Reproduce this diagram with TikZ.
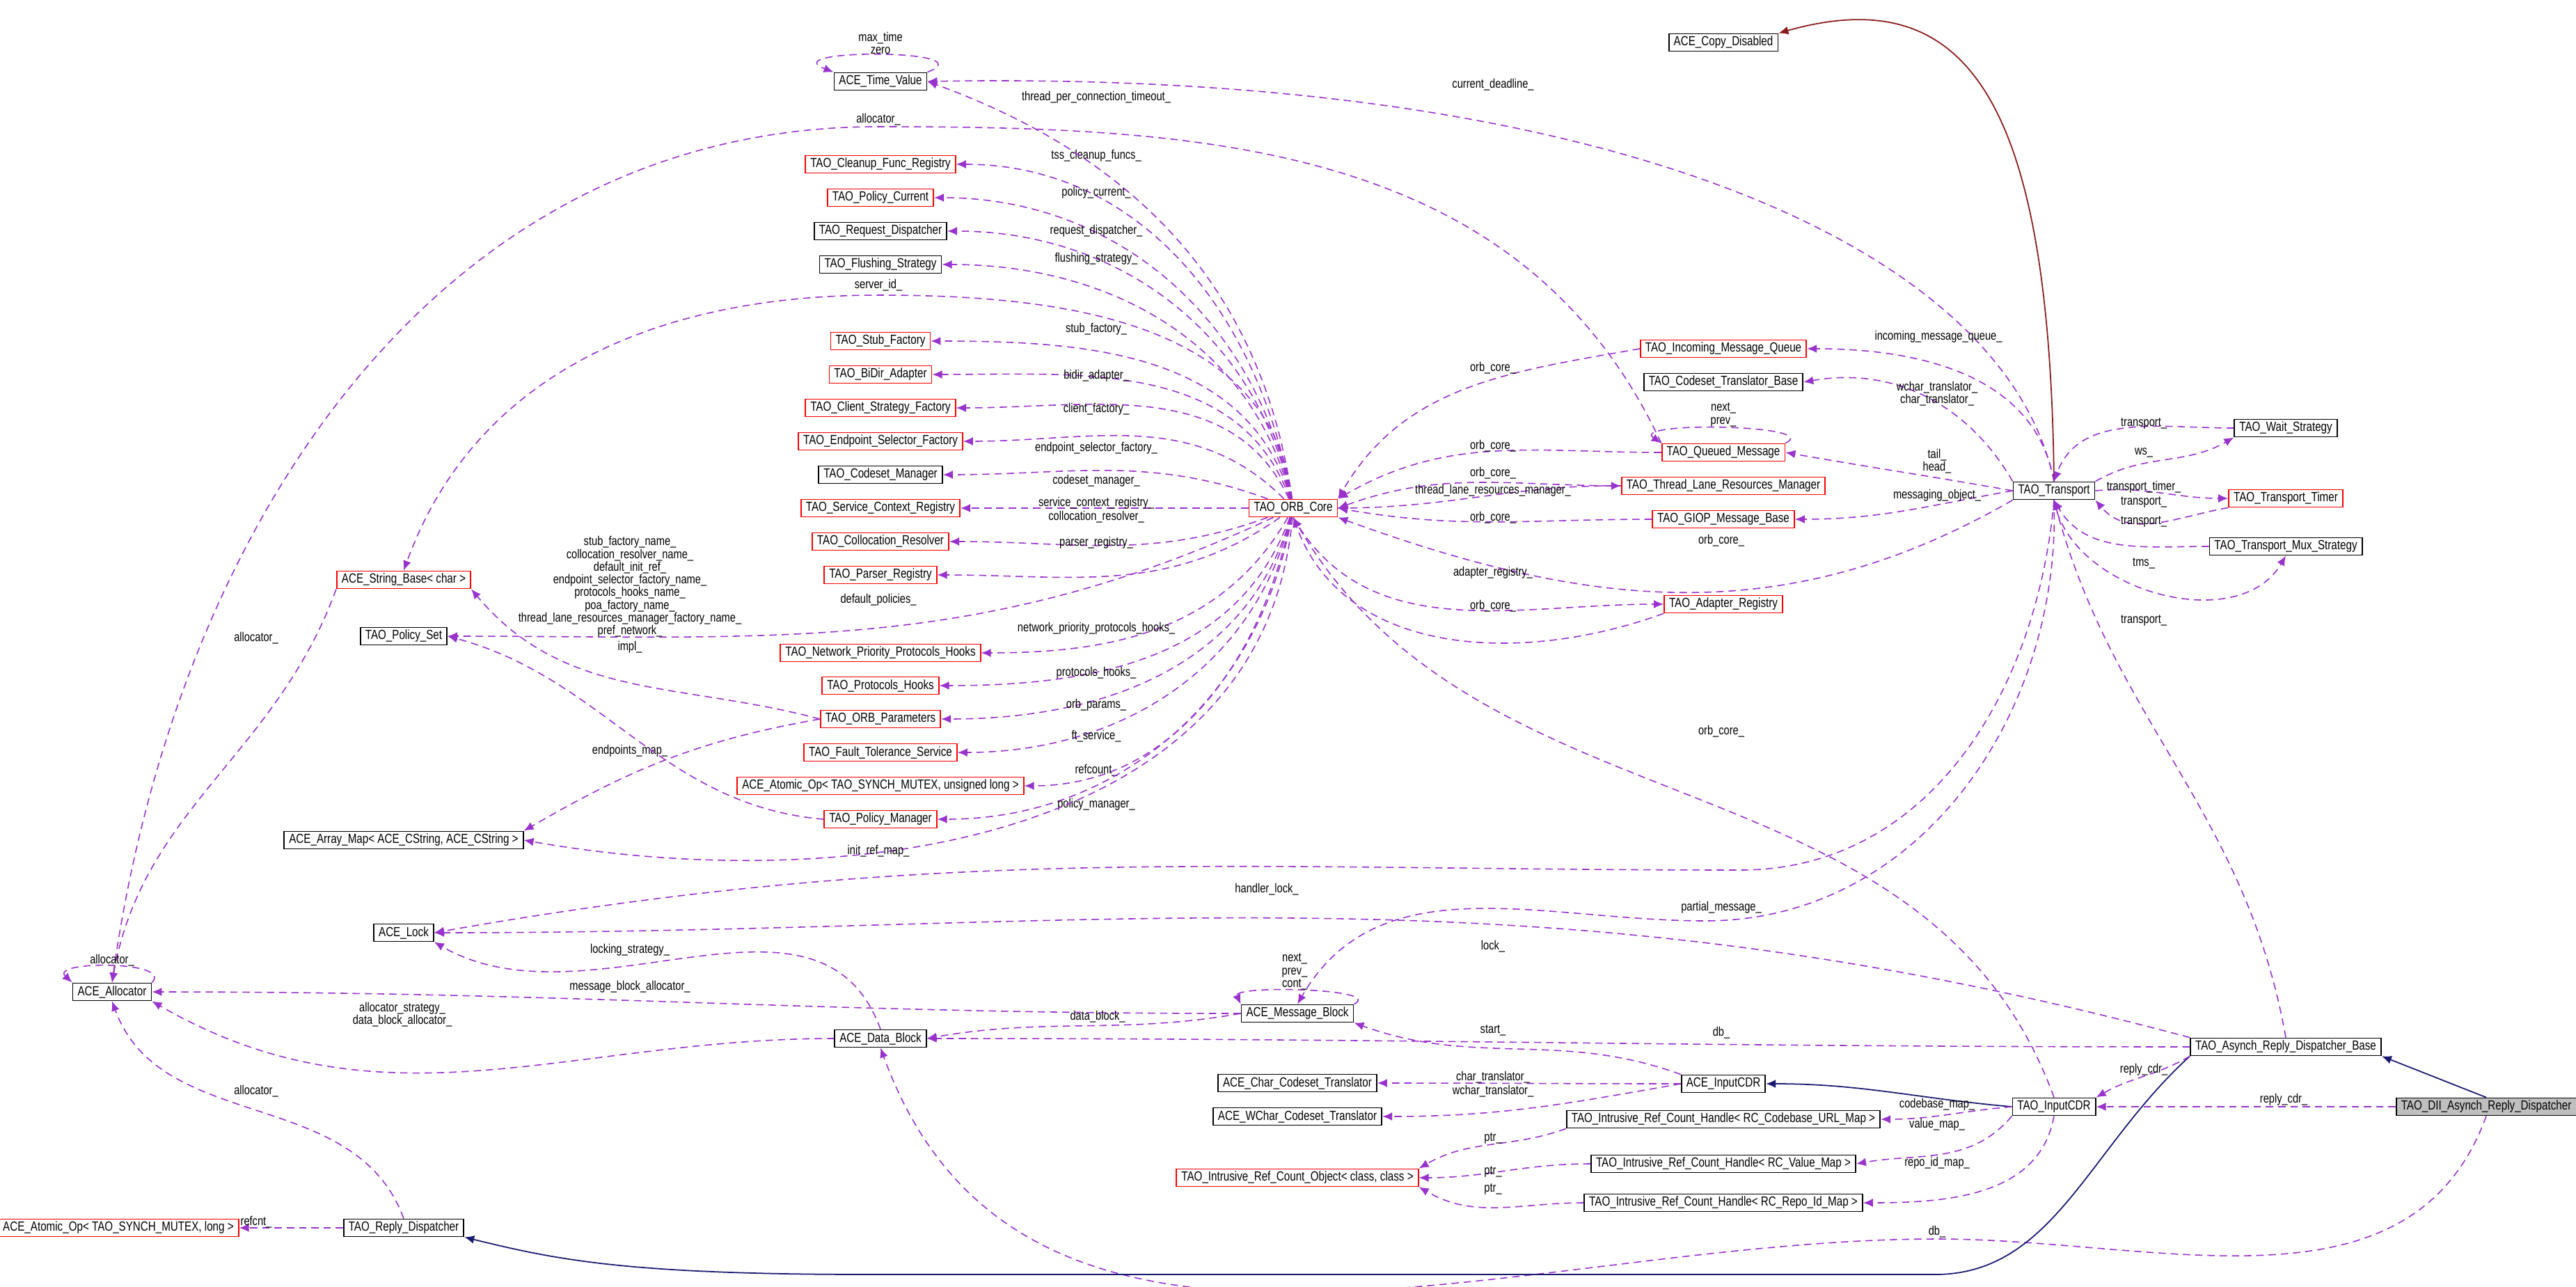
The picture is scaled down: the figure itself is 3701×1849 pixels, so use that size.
\documentclass[tikz,border=0pt]{standalone}
\usepackage{fontspec}
\setmainfont{Liberation Sans}[FakeStretch=0.8]
\usepackage{xcolor}
\usepackage{tikz}
\usetikzlibrary{arrows.meta,positioning}

\definecolor{depcol}{HTML}{9A32CD}
\definecolor{inhcol}{HTML}{191970}
\definecolor{cpycol}{HTML}{8B1A1A}
\newcommand\lblfont{\fontsize{5.2}{5.2}\selectfont\setlength\lineskiplimit{-5pt}\setlength\lineskip{0pt}}

\tikzset{
  cls/.style={draw=black, line width=0.5pt, fill=white, font=\fontsize{5.4}{6}\selectfont,
    inner xsep=2pt, inner ysep=0pt, minimum height=0.25cm},
  inc/.style={cls, draw=red},
  lbl/.style={font=\lblfont, inner sep=0.5pt, align=center},
  dep/.style={draw=depcol, dash pattern=on 3pt off 2pt, line width=0.45pt,
    -{Latex[length=4pt,width=3.4pt]}},
  inh/.style={draw=inhcol, line width=0.5pt, -{Latex[length=4pt,width=3.4pt]}},
  cpy/.style={draw=cpycol, line width=0.5pt, -{Latex[length=4pt,width=3.4pt]}},
}

\begin{document}
\begin{tikzpicture}[x=0.01cm, y=-0.01cm]
  \useasboundingbox (0,0) rectangle (3701,1849);
  % left column of ORB core members
  \node[cls] (timeval) at (1265,117) {ACE\_Time\_Value};
  \node[inc] (cleanup) at (1265,236) {TAO\_Cleanup\_Func\_Registry};
  \node[inc] (polcur) at (1265,284) {TAO\_Policy\_Current};
  \node[cls] (reqdisp) at (1265,332) {TAO\_Request\_Dispatcher};
  \node[cls] (flush) at (1265,380) {TAO\_Flushing\_Strategy};
  \node[inc] (stubf) at (1265,490) {TAO\_Stub\_Factory};
  \node[inc] (bidir) at (1265,538) {TAO\_BiDir\_Adapter};
  \node[inc] (clistrat) at (1265,586) {TAO\_Client\_Strategy\_Factory};
  \node[inc] (endpt) at (1265,634) {TAO\_Endpoint\_Selector\_Factory};
  \node[cls] (csmgr) at (1265,682) {TAO\_Codeset\_Manager};
  \node[inc] (svcctx) at (1265,730) {TAO\_Service\_Context\_Registry};
  \node[inc] (colloc) at (1265,778) {TAO\_Collocation\_Resolver};
  \node[inc] (parser) at (1265,826) {TAO\_Parser\_Registry};
  \node[inc] (netprio) at (1265,938) {TAO\_Network\_Priority\_Protocols\_Hooks};
  \node[inc] (prothooks) at (1265,985) {TAO\_Protocols\_Hooks};
  \node[inc] (orbparams) at (1265,1033) {TAO\_ORB\_Parameters};
  \node[inc] (ftserv) at (1265,1081) {TAO\_Fault\_Tolerance\_Service};
  \node[inc] (atomicul) at (1265,1129) {ACE\_Atomic\_Op< TAO\_SYNCH\_MUTEX, unsigned long >};
  \node[inc] (polmgr) at (1265,1177) {TAO\_Policy\_Manager};
  \node[inc] (strbase) at (580,833) {ACE\_String\_Base< char >};
  \node[cls] (polset) at (580,914) {TAO\_Policy\_Set};
  \node[cls] (arraymap) at (580,1207) {ACE\_Array\_Map< ACE\_CString, ACE\_CString >};
  \node[cls] (lock) at (580,1340) {ACE\_Lock};
  \node[cls] (allocator) at (161,1425) {ACE\_Allocator};
  \node[cls] (datablock) at (1265,1492) {ACE\_Data\_Block};
  \node[cls] (msgblock) at (1864,1456) {ACE\_Message\_Block};
  \node[cls] (charcs) at (1864,1556) {ACE\_Char\_Codeset\_Translator};
  \node[cls] (wcharcs) at (1864,1604) {ACE\_WChar\_Codeset\_Translator};
  \node[inc] (rcobj) at (1864,1692) {TAO\_Intrusive\_Ref\_Count\_Object< class, class >};
  \node[inc] (atomicl) at (170,1764) {ACE\_Atomic\_Op< TAO\_SYNCH\_MUTEX, long >};
  \node[cls] (replydisp) at (580,1764) {TAO\_Reply\_Dispatcher};
  \node[inc] (core) at (1858,730) {TAO\_ORB\_Core};
  % transport side
  \node[cls] (copydis) at (2476,61) {ACE\_Copy\_Disabled};
  \node[inc] (inq) at (2476,501) {TAO\_Incoming\_Message\_Queue};
  \node[cls] (cstb) at (2476,549) {TAO\_Codeset\_Translator\_Base};
  \node[inc] (queued) at (2476,650) {TAO\_Queued\_Message};
  \node[inc] (tlrm) at (2476,698) {TAO\_Thread\_Lane\_Resources\_Manager};
  \node[inc] (giop) at (2476,746) {TAO\_GIOP\_Message\_Base};
  \node[inc] (adapter) at (2476,868) {TAO\_Adapter\_Registry};
  \node[cls] (transport) at (2951,705) {TAO\_Transport};
  \node[cls] (wait) at (3284,615) {TAO\_Wait\_Strategy};
  \node[inc] (timer) at (3284,716) {TAO\_Transport\_Timer};
  \node[cls] (mux) at (3284,785) {TAO\_Transport\_Mux\_Strategy};
  \node[cls] (asynch) at (3284,1504) {TAO\_Asynch\_Reply\_Dispatcher\_Base};
  \node[cls] (acecdr) at (2476,1557) {ACE\_InputCDR};
  \node[cls] (taocdr) at (2951,1590) {TAO\_InputCDR};
  \node[cls,fill=black!25] (dii) at (3572,1590) {TAO\_DII\_Asynch\_Reply\_Dispatcher};
  \node[cls] (hurl) at (2476,1608) {TAO\_Intrusive\_Ref\_Count\_Handle< RC\_Codebase\_URL\_Map >};
  \node[cls] (hval) at (2476,1672) {TAO\_Intrusive\_Ref\_Count\_Handle< RC\_Value\_Map >};
  \node[cls] (hrepo) at (2476,1728) {TAO\_Intrusive\_Ref\_Count\_Handle< RC\_Repo\_Id\_Map >};

  % ORB core members
  \foreach \t/\o/\ly/\txt in {cleanup/100/224/tss\_cleanup\_funcs\_, polcur/101/277/policy\_current\_,
      reqdisp/102/332/request\_dispatcher\_, flush/104/372/flushing\_strategy\_,
      stubf/106/473/stub\_factory\_, bidir/110/540/bidir\_adapter\_, clistrat/115/588/client\_factory\_,
      endpt/135/644/endpoint\_selector\_factory\_, csmgr/160/691/codeset\_manager\_,
      svcctx/180/723/service\_context\_registry\_, colloc/200/743/collocation\_resolver\_,
      parser/215/780/parser\_registry\_, netprio/-120/903/network\_priority\_protocols\_hooks\_,
      prothooks/-110/967/protocols\_hooks\_, orbparams/-106/1013/orb\_params\_,
      ftserv/-104/1058/ft\_service\_, atomicul/-102/1107/refcount\_, polmgr/-100/1156/policy\_manager\_}
  {
    \draw[dep] (core) to[out=\o,in=0] (\t.east);
    \node[lbl] (l\t) at (1575,\ly) {\txt};
  }
  \draw[dep] (core) to[out=98,in=-20] (timeval.east);
  \node[lbl] (ltpct) at (1575,140) {thread\_per\_connection\_timeout\_};
  \draw[dep] (core) to[out=97,in=0] (1262,424) to[out=180,in=70] (strbase.north);
  \node[lbl] (lsrvid) at (1262,410) {server\_id\_};
  \draw[dep] (core) to[out=205,in=0] (polset.east);
  \node[lbl] (ldefpol) at (1262,862) {default\_policies\_};
  \draw[dep] (core) to[out=-95,in=-10] (arraymap.east);
  \node[lbl] (linitref) at (1262,1223) {init\_ref\_map\_};

  % ORB parameters and friends
  \draw[dep] (orbparams.west) to[out=165,in=-50] (strbase.south east);
  \node[lbl] (lnames) at (905,843) {stub\_factory\_name\_\\collocation\_resolver\_name\_\\default\_init\_ref\_\\
    endpoint\_selector\_factory\_name\_\\protocols\_hooks\_name\_\\poa\_factory\_name\_\\
    thread\_lane\_resources\_manager\_factory\_name\_\\pref\_network\_};
  \draw[dep] (orbparams.west) to[out=190,in=30] (arraymap.north east);
  \node[lbl] (lepmap) at (905,1079) {endpoints\_map\_};
  \draw[dep] (polmgr.west) to[out=175,in=-15] (polset.east);
  \node[lbl] (limpl) at (905,930) {impl\_};
  \draw[dep] (strbase.south west) to[out=-110,in=80] (allocator.north);
  \node[lbl] (lalloc1) at (368,917) {allocator\_};
  \draw[dep] (queued.north west) to[out=115,in=0] (1262,182) to[out=180,in=82] (allocator.north);
  \node[lbl] (lalloc2) at (1262,172) {allocator\_};

  % self loops
  \draw[dep] (timeval.north east) .. controls (1420,70) and (1110,70) .. (timeval.north west);
  \node[lbl] (ltvloop) at (1265,62) {max\_time\\zero};
  \draw[dep] (allocator.north east) .. controls (250,1380) and (70,1380) .. (allocator.north west);
  \node[lbl] (lalloop) at (161,1380) {allocator\_};
  \draw[dep] (queued.north east) .. controls (2620,610) and (2340,605) .. (queued.north west);
  \node[lbl] (lqloop) at (2476,596) {next\_\\prev\_};
  \draw[dep] (msgblock.north east) .. controls (1990,1420) and (1770,1415) .. (msgblock.north west);
  \node[lbl] (lmbloop) at (1860,1396) {next\_\\prev\_\\cont\_};

  % transport
  \draw[cpy] (transport.north) .. controls (2945,150) and (2830,-30) .. (copydis.north east);
  \draw[dep] (transport.north) .. controls (2880,350) and (2300,100) .. (timeval.east);
  \node[lbl] (lcurdl) at (2145,122) {current\_deadline\_};
  \draw[dep] (transport.north) to[out=100,in=0] (inq.east);
  \node[lbl] (linq) at (2785,484) {incoming\_message\_queue\_};
  \draw[dep] (transport.north west) to[out=120,in=10] (cstb.east);
  \node[lbl] (lcstb) at (2783,566) {wchar\_translator\_\\char\_translator\_};
  \draw[dep] (transport.west) to[out=170,in=-10] (queued.east);
  \node[lbl] (ltail) at (2783,663) {tail\_\\head\_};
  \draw[dep] (transport.west) to[out=190,in=0] (giop.east);
  \node[lbl] (lmsgobj) at (2783,712) {messaging\_object\_};
  \draw[dep] (transport.north east) to[out=30,in=-150] (wait.south west);
  \node[lbl] (lws) at (3080,650) {ws\_};
  \draw[dep] (wait.west) to[out=180,in=70] (transport.north);
  \node[lbl] (lwtr) at (3080,608) {transport\_};
  \draw[dep] (transport.east) to[out=5,in=180] (timer.west);
  \node[lbl] (lttimer) at (3080,700) {transport\_timer\_};
  \draw[dep] (timer.south west) to[out=190,in=-50] (transport.south east);
  \node[lbl] (lttr) at (3080,721) {transport\_};
  \draw[dep] (mux.west) to[out=180,in=-60] (transport.south);
  \node[lbl] (lmtr) at (3080,749) {transport\_};
  \draw[dep] (transport.south) to[out=-80,in=-120] (mux.south);
  \node[lbl] (ltms) at (3080,809) {tms\_};
  \draw[dep] (asynch.north) to[out=100,in=-75] (transport.south);
  \node[lbl] (latr) at (3080,891) {transport\_};

  % orb core references
  \draw[dep] (inq.west) to[out=190,in=60] (core.north east);
  \node[lbl] (loc1) at (2145,529) {orb\_core\_};
  \draw[dep] (queued.west) to[out=180,in=30] (core.north east);
  \node[lbl] (loc2) at (2145,641) {orb\_core\_};
  \draw[dep] (tlrm.west) to[out=180,in=20] (core.east);
  \node[lbl] (loc3) at (2145,680) {orb\_core\_};
  \draw[dep] (core.east) to[out=0,in=180] (tlrm.west);
  \node[lbl] (ltlrm) at (2145,705) {thread\_lane\_resources\_manager\_};
  \draw[dep] (giop.west) to[out=180,in=-10] (core.east);
  \node[lbl] (loc4) at (2145,744) {orb\_core\_};
  \draw[dep] (transport.south west) to[out=-150,in=-20] (core.south east);
  \node[lbl] (loc5) at (2473,777) {orb\_core\_};
  \draw[dep] (core.south) to[out=-60,in=180] (adapter.west);
  \node[lbl] (ladreg) at (2145,823) {adapter\_registry\_};
  \draw[dep] (adapter.south west) to[out=200,in=-70] (core.south);
  \node[lbl] (loc6) at (2145,871) {orb\_core\_};
  \draw[dep] (taocdr.north) to[out=110,in=-60] (core.south);
  \node[lbl] (loc7) at (2473,1051) {orb\_core\_};

  % locks, blocks and allocators
  \draw[dep] (transport.south) to[out=-95,in=0] (2500,1250) to[out=180,in=10] (lock.east);
  \node[lbl] (lhlock) at (1820,1278) {handler\_lock\_};
  \draw[dep] (transport.south) to[out=-88,in=0] (2450,1323) to[out=180,in=60] (msgblock.north);
  \node[lbl] (lpart) at (2473,1304) {partial\_message\_};
  \draw[dep] (asynch.north west) to[out=165,in=0] (lock.east);
  \node[lbl] (llock) at (2145,1360) {lock\_};
  \draw[dep] (datablock.north) to[out=110,in=-30] (lock.south east);
  \node[lbl] (llockstr) at (905,1365) {locking\_strategy\_};
  \draw[dep] (msgblock.west) to[out=180,in=0] (allocator.east);
  \node[lbl] (lmbalc) at (905,1418) {message\_block\_allocator\_};
  \draw[dep] (datablock.west) to[out=180,in=-30] (allocator.south east);
  \node[lbl] (ldbalc) at (578,1458) {allocator\_strategy\_\\data\_block\_allocator\_};
  \draw[dep] (msgblock.west) to[out=190,in=10] (datablock.east);
  \node[lbl] (ldblk) at (1577,1461) {data\_block\_};
  \draw[dep] (asynch.west) to[out=180,in=0] (datablock.east);
  \node[lbl] (ldb1) at (2473,1484) {db\_};
  \draw[dep] (dii.south) to[out=-110,in=0] (2783,1780) to[out=180,in=-70] (datablock.south);
  \node[lbl] (ldb2) at (2783,1770) {db\_};

  % reply dispatchers
  \draw[dep] (replydisp.north) to[out=110,in=-70] (allocator.south);
  \node[lbl] (lalloc3) at (368,1568) {allocator\_};
  \draw[dep] (replydisp.west) -- (atomicl.east);
  \node[lbl] (lrefcnt) at (368,1756) {refcnt\_};
  \draw[inh] (asynch.south west) .. controls (3000,1650) and (2950,1831) .. (2780,1831)
    -- (1250,1831) .. controls (900,1831) and (800,1810) .. (replydisp.south east);
  \draw[inh] (dii.north) -- (asynch.south east);
  \draw[dep] (dii.west) -- (taocdr.east);
  \node[lbl] (lrcdr1) at (3281,1580) {reply\_cdr\_};
  \draw[dep] (asynch.south west) to[out=-150,in=30] (taocdr.north east);
  \node[lbl] (lrcdr2) at (3080,1537) {reply\_cdr\_};

  % CDR streams
  \draw[inh] (taocdr.west) to[out=175,in=0] (acecdr.east);
  \draw[dep] (acecdr.north west) to[out=160,in=-20] (msgblock.south east);
  \node[lbl] (lstart) at (2145,1480) {start\_};
  \draw[dep] (acecdr.west) to[out=180,in=0] (charcs.east);
  \node[lbl] (lctr) at (2145,1548) {char\_translator\_};
  \draw[dep] (acecdr.west) to[out=190,in=0] (wcharcs.east);
  \node[lbl] (lwctr) at (2145,1568) {wchar\_translator\_};
  \draw[dep] (taocdr.west) to[out=185,in=0] (hurl.east);
  \node[lbl] (lcbmap) at (2783,1587) {codebase\_map\_};
  \draw[dep] (taocdr.south west) to[out=-130,in=10] (hval.east);
  \node[lbl] (lvmap) at (2783,1616) {value\_map\_};
  \draw[dep] (taocdr.south) to[out=-100,in=0] (hrepo.east);
  \node[lbl] (lrmap) at (2783,1671) {repo\_id\_map\_};
  \draw[dep] (hurl.south west) to[out=200,in=30] (rcobj.north east);
  \node[lbl] (lptr1) at (2145,1635) {ptr\_};
  \draw[dep] (hval.west) to[out=180,in=0] (rcobj.east);
  \node[lbl] (lptr2) at (2145,1683) {ptr\_};
  \draw[dep] (hrepo.west) to[out=180,in=-30] (rcobj.south east);
  \node[lbl] (lptr3) at (2145,1708) {ptr\_};
\end{tikzpicture}
\end{document}
